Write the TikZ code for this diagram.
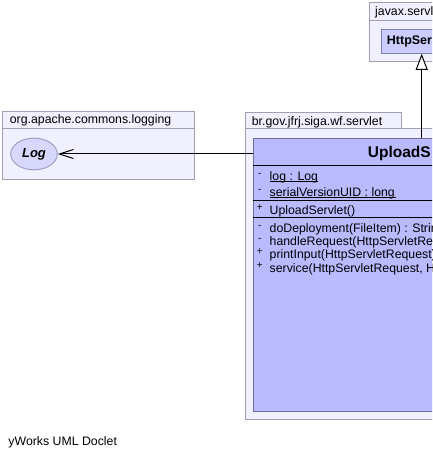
\documentclass[tikz,border=0pt]{standalone}
\usepackage{fontspec}
\setmainfont{Liberation Sans}
\usetikzlibrary{arrows.meta,shapes.geometric}
\definecolor{pkgfill}{RGB}{240,240,254}
\definecolor{pkgline}{RGB}{160,160,178}
\definecolor{clsfill}{RGB}{186,186,255}
\definecolor{clsline}{RGB}{112,112,150}
\definecolor{reffill}{RGB}{204,204,255}
\definecolor{refline}{RGB}{128,128,176}
\definecolor{ifcfill}{RGB}{216,216,252}
\definecolor{ifcline}{RGB}{160,160,192}
\tikzset{
  pkg/.style={draw=pkgline, fill=pkgfill, line width=1pt},
  txt/.style={inner sep=0pt, font=\fontsize{12.3}{14}\selectfont},
  vis/.style={inner sep=0pt, font=\fontsize{10}{12}\selectfont},
  cls/.style={draw=clsline, fill=clsfill, line width=1pt, inner sep=0pt},
}
\begin{document}
\begin{tikzpicture}[x=1pt, y=-1pt]
                  \useasboundingbox (0,0) rectangle (432,457);
                  \clip (0,0) rectangle (432,457);
                  % packages
                  \draw[pkg] (2.7,111.7) rectangle (194.5,129);
                  \draw[pkg] (2.7,129) rectangle (194.5,179);
                  \node[txt, anchor=base west] (orgname) at (9.7,124) {org.apache.commons.logging};
                  \draw[pkg] (369.3,2.3) rectangle (476,20.7);
                  \draw[pkg] (369.3,20.7) rectangle (476,61.7);
                  \node[txt, anchor=base west] (javaxname) at (375,16) {javax.servl};
                  \draw[pkg] (245.7,112.7) rectangle (401,128.3);
                  \draw[pkg] (245.7,128.3) rectangle (598,419.3);
                  \node[txt, anchor=base west] (brname) at (251.7,125.3) {br.gov.jfrj.siga.wf.servlet};
                  % classes
                  \node[ellipse, draw=ifcline, fill=ifcfill, line width=1pt, minimum width=46.6pt, minimum height=31.7pt, inner sep=0pt,
                        font=\fontsize{13}{15}\bfseries\itshape\selectfont] (log) at (34,154) {Log};
                  \node[draw=refline, fill=reffill, line width=1pt, minimum width=80pt, minimum height=24pt, inner sep=0pt] (http) at (421.7,41.3) {};
                  \node[inner sep=0pt, anchor=base west, font=\fontsize{12.5}{14}\bfseries\selectfont] (httpname) at (386.7,44.5) {HttpSer};
                  \node[cls, minimum width=336.8pt, minimum height=272.7pt] (upload) at (421.7,274.7) {};
                  \node[inner sep=0pt, anchor=base west, font=\fontsize{15.5}{18}\bfseries\selectfont] (uploadname) at (367.7,157.5) {UploadS};
                  \foreach \y in {165, 200.8, 217.3} {
                      \draw[line width=1pt] (upload.west |- 0,\y) -- (upload.east |- 0,\y);
                  }
                  % attributes
                  \node[vis, anchor=base] at (259.7,176) {-};
                  \node[txt, anchor=base west] (logattr) at (269.5,180) {log : Log};
                  \draw[line width=1pt] ([yshift=-1pt]logattr.base west) -- ([yshift=-1pt]logattr.base east);
                  \node[vis, anchor=base] at (259.7,192) {-};
                  \node[txt, anchor=base west] (uidattr) at (269.5,196) {serialVersionUID : long};
                  \draw[line width=1pt] ([yshift=-1pt]uidattr.base west) -- ([yshift=-1pt,xshift=1pt]uidattr.base east);
                  % constructor and methods
                  \node[vis, anchor=base] at (259.7,210) {+};
                  \node[txt, anchor=base west] (ctor) at (269.5,214) {UploadServlet()};
                  \foreach \v/\m [count=\i from 0] in {-/{doDeployment(FileItem) : Strin}, -/{handleRequest(HttpServletRe},
                                                      +/{printInput(HttpServletRequest)}, +/{service(HttpServletRequest, H}} {
                      \node[vis, anchor=base] at (259.7,{228+13.4*\i}) {\v};
                      \node[txt, anchor=base west] (meth\i) at (269.5,{232+13.4*\i}) {\m};
                  }
                  % relations
                  \draw[-{Straight Barb[length=14pt,width=9pt]}, line width=1pt] (upload.west |- log.east) -- (log.east);
                  \draw[-{Triangle[length=16pt,width=12pt,fill=white]}, line width=1pt] (upload.north) -- (http.south);
                  \node[txt, anchor=base west] (doclet) at (8.3,445) {yWorks UML Doclet};
\end{tikzpicture}
\end{document}
